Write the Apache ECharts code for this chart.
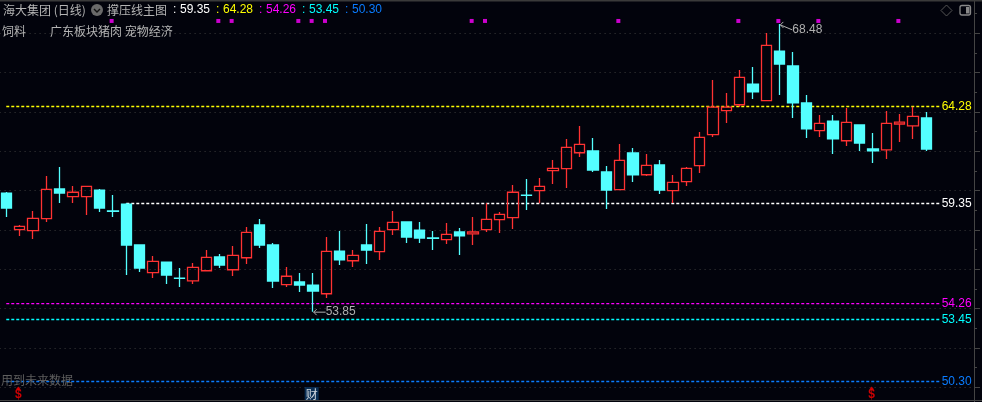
<!DOCTYPE html>
<html><head><meta charset="utf-8">
<style>html,body{margin:0;padding:0;background:#02030c}#c{width:982px;height:402px}</style>
<script src="https://cdn.jsdelivr.net/npm/echarts@6/dist/echarts.min.js"></script>
</head><body><div id="c"></div>
<script>
// One entry per session, left to right (dates are not shown in the reference)
var opens  = [59.88,58.02,57.97,58.58,60.09,59.70,59.70,60.03,58.97,59.32,57.24,55.83,56.37,55.56,55.42,55.93,56.63,55.98,56.59,58.26,57.24,55.22,55.36,55.20,54.76,
              56.93,56.44,57.24,56.90,58.02,58.41,58.00,57.60,57.51,57.90,57.80,58.02,58.53,58.63,59.78,60.00,61.02,61.12,61.93,62.02,60.95,60.05,61.92,60.81,
              61.31,60.00,60.46,61.27,62.85,64.07,64.37,65.42,64.58,67.10,66.34,64.46,63.05,63.54,62.54,63.34,62.12,62.08,63.39,63.30,63.70];
var closes = [59.12,58.19,58.59,60.07,59.88,59.92,60.22,59.12,58.95,57.24,56.07,56.41,55.71,55.54,56.10,56.61,56.22,56.71,57.88,57.24,55.41,55.65,55.20,54.90,56.92,
              56.48,56.71,56.98,57.93,58.39,57.64,57.59,57.58,57.78,57.70,57.90,58.54,58.80,59.92,59.76,60.22,61.14,62.20,62.36,61.05,60.03,61.54,60.80,61.29,
              60.03,60.42,61.14,62.71,64.25,64.25,65.76,65.02,67.39,66.44,64.46,63.14,63.42,62.63,63.47,62.42,62.02,63.42,63.49,63.78,62.12];
var lows   = [58.66,57.70,57.54,58.41,59.37,59.37,58.76,58.92,58.66,55.71,55.87,55.56,55.26,55.10,55.26,55.93,56.07,55.66,56.27,57.09,55.05,55.10,54.85,53.85,54.54,
              56.22,56.12,56.27,56.48,57.75,57.34,57.34,56.98,57.29,56.73,57.24,57.90,57.85,58.05,59.02,59.36,60.34,60.14,61.71,60.95,59.07,60.03,60.44,60.75,
              59.83,59.37,60.24,60.90,62.73,63.44,64.25,64.66,64.58,64.86,63.70,62.68,62.73,61.86,62.27,62.02,61.41,61.61,62.47,62.63,62.02];
var highs  = [59.93,58.26,58.97,60.75,61.20,60.24,60.22,60.09,59.78,59.37,57.24,56.68,56.37,56.07,56.32,56.98,56.78,57.19,58.15,58.56,57.34,56.12,55.81,55.81,57.64,
              57.95,56.98,58.31,58.15,58.97,58.41,58.41,57.95,58.36,58.10,58.66,59.36,58.92,60.29,60.59,60.64,61.56,62.63,63.29,62.68,61.25,62.37,62.17,61.86,
              61.56,60.80,61.20,62.98,65.63,64.97,66.14,66.29,68.02,68.48,67.05,64.86,63.85,63.85,64.20,63.34,62.93,64.05,63.90,64.27,64.00];
var categoryCount = 73;
var categories = []; for (var n = 0; n < categoryCount; n++) categories.push(String(n + 1));

var levelNames  = ['white','yellow','magenta','cyan','blue'];
var levelValues = [59.35, 64.28, 54.26, 53.45, 50.30];
var levelLabels = ['59.35','64.28','54.26','53.45','50.30'];
var levelStart  = [9, 0, 0, 0, 0];
var levelEnd    = 70;
var levelColors = ['#ffffff','#ffff00','#ff00ff','#00ffff','#0a7cff'];

var signalIndex = [8,16,17,22,23,24,35,36,46,55,58,61,67];
var signalPrice = 68.63;
var extremes = [[58, 68.48, '68.48', 1], [23, 53.85, '53.85', 0]];
var dollarIndex = [1, 65];
var reportIndex = [23];
var footPrice = 49.66;

var titleText = '海大集团 (日线)', indicatorText = '撑压线主图', sectorText = '饲料', tagsText = '广东板块猪肉 宠物经济', warnText = '用到未来数据';

var sans = '"Liberation Sans","Noto Sans CJK SC",sans-serif';
var cjk = '"Noto Sans CJK SC",sans-serif';
function t(x, y, text, fill, font, size) {
  return {type:'text', z:50, silent:true, x:x, y:y, style:{text:text, fill:fill, font:(size||12)+'px '+(font||cjk), textVerticalAlign:'middle'}};
}
var graphics = [
  {type:'rect', z:40, silent:true, shape:{x:0,y:0,width:982,height:1.5}, style:{fill:'#3a3a3a'}},
  {type:'rect', z:40, silent:true, shape:{x:0,y:400,width:982,height:1}, style:{fill:'#444'}},
  t(3,10,titleText,'#b4b4b4'),
  {type:'circle', z:50, silent:true, shape:{cx:97,cy:10,r:6}, style:{fill:'#6a6a6a'}},
  {type:'polyline', z:51, silent:true, shape:{points:[[94,9],[97,12],[100,9]]}, style:{stroke:'#111',lineWidth:1.4,fill:'none'}},
  t(107,10,indicatorText,'#b4b4b4'),
  t(2,31,sectorText,'#b4b4b4'),
  t(50,31,tagsText,'#b4b4b4'),
  t(1,380,warnText,'#5e5e5e'),
  {type:'polygon', z:50, silent:true, shape:{points:[[946.5,5],[952,10.5],[946.5,16],[941,10.5]]}, style:{stroke:'#555',fill:'none',lineWidth:1}},
  {type:'rect', z:50, silent:true, shape:{x:960,y:5.5,width:10.5,height:9.5,r:2}, style:{stroke:'#888',fill:'none',lineWidth:1.3}},
  {type:'rect', z:50, silent:true, shape:{x:966,y:7,width:3.5,height:6.5}, style:{fill:'#888'}}
];
levelLabels.forEach(function (s, i) {
  var x = 173 + i * 43;
  graphics.push(t(x, 10, ':', levelColors[i], sans));
  graphics.push(t(x + 7, 10, s, levelColors[i], sans));
});

var levelSeries = levelValues.map(function (v, i) {
  return {
    name: levelNames[i], type:'line', silent:true, symbol:'none', z:3,
    data: [[levelStart[i], v], [levelEnd, v]],
    lineStyle: {color: levelColors[i], width: 1.4, type: [3, 2]},
    endLabel: {show:true, formatter: levelLabels[i], color: levelColors[i], fontFamily: sans, fontSize: 12, distance: 2}
  };
});
var candle = opens.map(function (o, i) { return [o, closes[i], lows[i], highs[i]]; });

echarts.init(document.getElementById('c'), null, {renderer:'canvas'}).setOption({
  animation:false, backgroundColor:'#02030c',
  grid:{left:-0.4, width:973.4, top:-6, height:432.74, outerBoundsMode:'none', containLabel:false},
  xAxis:{type:'category', data:categories, boundaryGap:true, axisLine:{show:false}, axisTick:{show:false}, axisLabel:{show:false}, splitLine:{show:false}},
  yAxis:{type:'value', position:'right', offset:1, min:48, max:70, interval:2, scale:true, minorTick:{show:true, splitNumber:2, length:3, lineStyle:{color:'#444'}},
    axisLine:{show:true, lineStyle:{color:'#444', width:1}}, axisTick:{show:true, length:6, lineStyle:{color:'#444'}}, axisLabel:{show:false},
    splitLine:{show:true, lineStyle:{color:'#3c3c3c', type:[1,4], width:1}}, minorSplitLine:{show:false}},
  graphic: graphics,
  series: levelSeries.concat([
    {type:'candlestick', z:4, silent:true, barWidth:11, data:candle,
      itemStyle:{color:'rgba(2,3,12,0)', color0:'#54ffff', borderColor:'#ff3232', borderColor0:'#54ffff', borderWidth:1.3}},
    {type:'scatter', silent:true, z:6, symbol:'rect', symbolSize:4, symbolOffset:[-1.3,0], itemStyle:{color:'#ff00ff'},
      data: signalIndex.map(function (i) { return [i, signalPrice]; })},
    {type:'custom', silent:true, z:7, data:extremes, clip:false, encode:{x:0,y:1},
      renderItem:function (p, api) {
        var c = api.coord([api.value(0), api.value(1)]);
        var up = api.value(3);
        var x0 = c[0] + 0.7, y0 = up ? c[1] + 1 : c[1] + 0.5;
        var ex = x0 + 12, ey = y0 + (up ? 5 : 0);
        return {type:'group', children:[
          {type:'polyline', shape:{points:[[x0,y0],[ex,ey]]}, style:{stroke:'#b0b0b0',fill:'none',lineWidth:1}},
          {type:'polyline', shape:{points:[[x0+3,y0-3],[x0,y0],[x0+3,y0+3]]}, style:{stroke:'#b0b0b0',fill:'none',lineWidth:1}},
          {type:'text', x:ex, y:ey, style:{text:extremes[p.dataIndex][2], fill:'#b0b0b0', font:'12px '+sans, textVerticalAlign:'middle'}}
        ]};
      }},
    {type:'scatter', silent:true, z:7, symbol:'triangle', symbolSize:[5,3], symbolOffset:[-1.3,-6], itemStyle:{color:'#ff0000'},
      data: dollarIndex.map(function (i) { return [i, footPrice]; }),
      label:{show:true, position:'inside', offset:[0,7], formatter:'$', color:'#ff0000', fontFamily:sans, fontWeight:'bold', fontSize:12}},
    {type:'scatter', silent:true, z:7, symbol:'rect', symbolSize:1, symbolOffset:[-1.3,0], itemStyle:{color:'#0d3a66'},
      data: reportIndex.map(function (i) { return [i, footPrice]; }),
      label:{show:true, position:'inside', formatter:'财', color:'#ffffff', fontFamily:cjk, fontSize:12, backgroundColor:'#0d3a66', padding:[1,1]}}
  ])
});
</script></body></html>
